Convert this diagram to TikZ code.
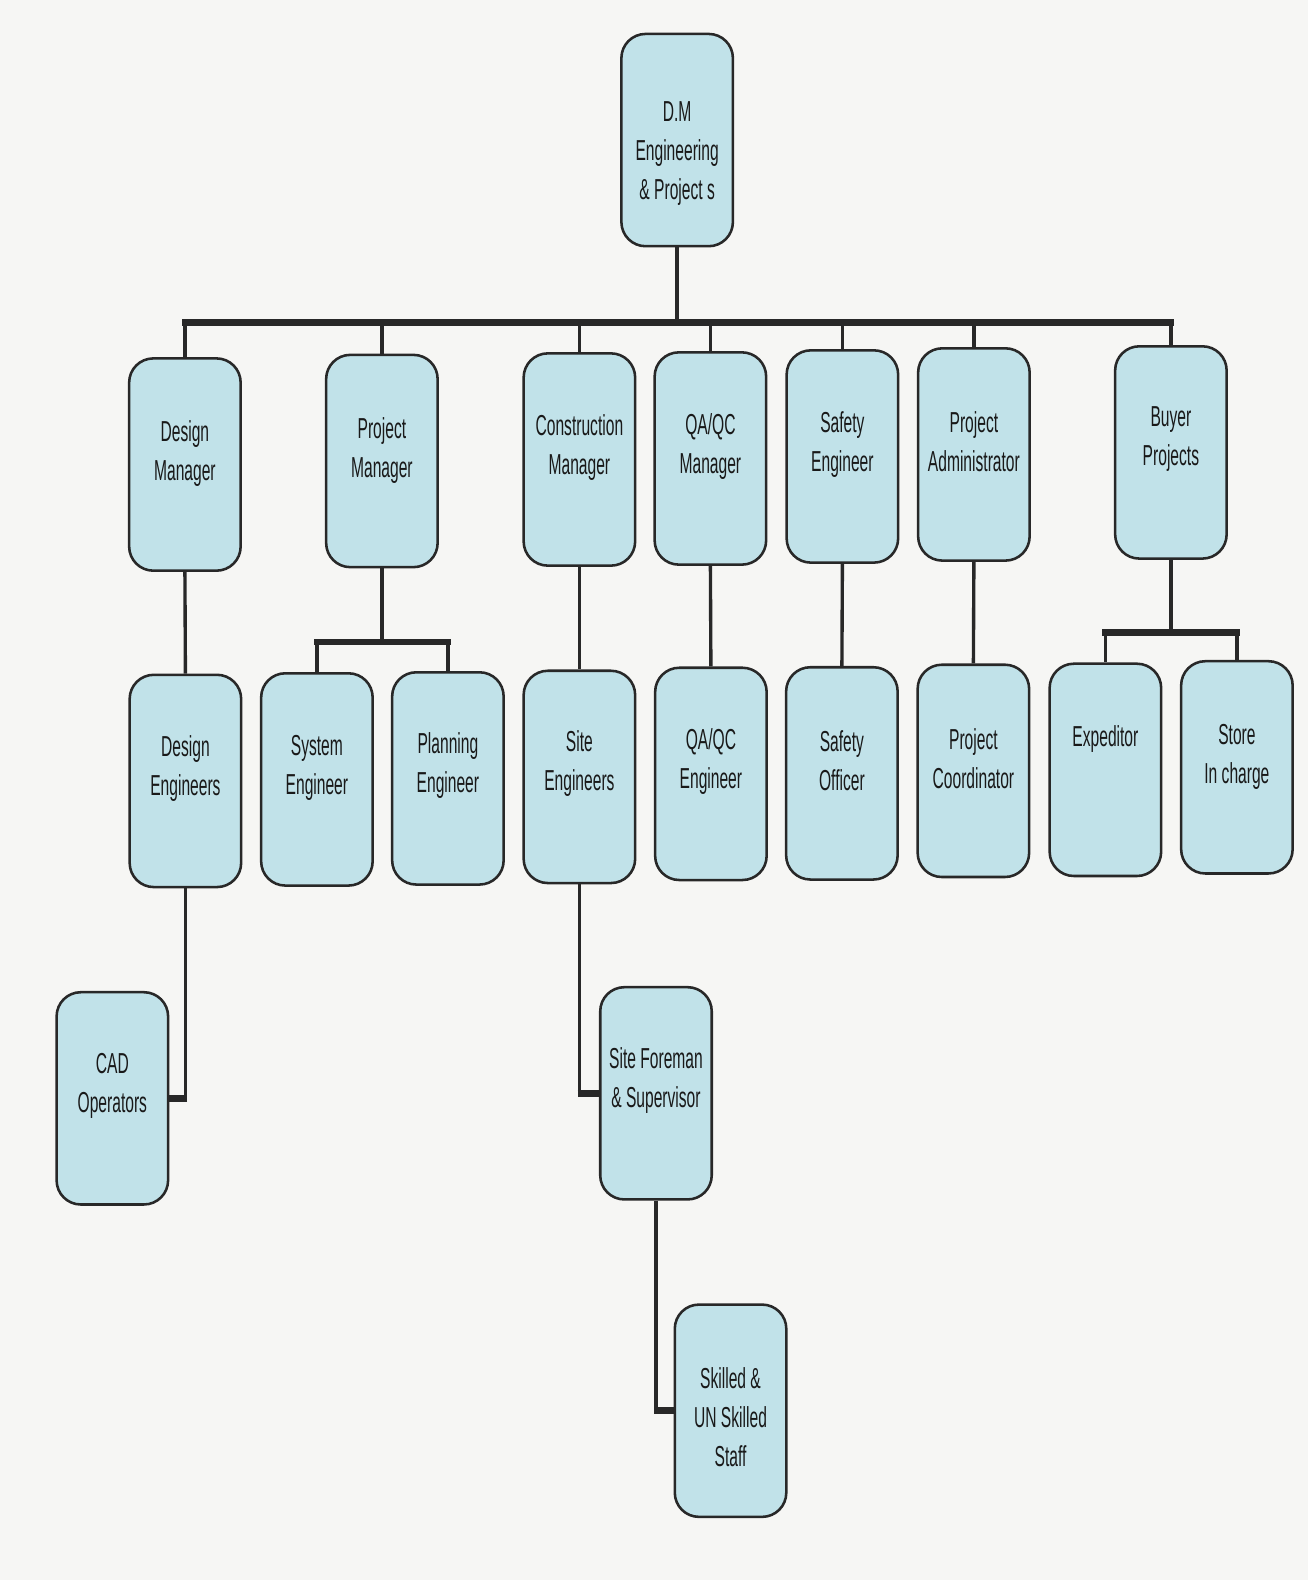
\documentclass[tikz,border=0pt]{standalone}
\usepackage{fontspec}
\setmainfont{Liberation Sans}[FakeStretch=0.54]
\definecolor{boxfill}{RGB}{193,226,233}
\definecolor{boxline}{RGB}{40,40,40}
\definecolor{linecol}{RGB}{40,40,40}
\definecolor{txtcol}{RGB}{25,25,25}
\definecolor{paper}{RGB}{246,246,244}
\begin{document}
\begin{tikzpicture}[x=0.75pt,y=-0.75pt,
  box/.style={draw=boxline, line width=1.9pt, fill=boxfill, rounded corners=18pt,
    minimum width=83pt, minimum height=158pt, inner sep=0pt},
  txt/.style={align=center, font=\fontsize{21.5}{29}\selectfont, text=txtcol, inner sep=0pt},
  link/.style={draw=linecol, line width=2.5pt},
  bus/.style={draw=linecol, line width=5pt, line cap=rect}]
\fill[paper] (0,0) rectangle (1298,1568);
\useasboundingbox (0,0) rectangle (1298,1568);
% boxes
\node[box] (dm) at (672,139) {};
\node[box] (dmg) at (183.5,461) {};
\node[box] (pmg) at (379,457.5) {};
\node[box] (cmg) at (575,456) {};
\node[box] (qam) at (705,455) {};
\node[box] (seng) at (836,453) {};
\node[box] (padm) at (966.5,451) {};
\node[box] (buy) at (1162,449) {};
\node[box] (deng) at (184,775) {};
\node[box] (syse) at (314.5,773.5) {};
\node[box] (plan) at (444.5,772.5) {};
\node[box] (site) at (575,771) {};
\node[box] (qae) at (705.5,768) {};
\node[box] (safo) at (835.5,767.5) {};
\node[box] (pco) at (966,765) {};
\node[box] (exp) at (1097,764) {};
\node[box] (store) at (1227.5,761.5) {};
\node[box] (cad) at (111.5,1090) {};
\node[box] (fore) at (651,1085) {};
\node[box] (skill) at (725,1400) {};
% texts
\node[txt] (tdm) at (672,152) {D.M\\Engineering\\\& Project s};
\node[txt] (tdmg) at (183.5,450) {Design\\Manager};
\node[txt] (tpmg) at (379,447) {Project\\Manager};
\node[txt] (tcmg) at (575,444) {Construction\\Manager};
\node[txt] (tqam) at (705,443) {QA/QC\\Manager};
\node[txt] (tseng) at (836,441) {Safety\\Engineer};
\node[txt] (tpadm) at (966.5,438) {Project\\Administrator};
\node[txt] (tbuy) at (1162,436) {Buyer\\Projects};
\node[txt] (tdeng) at (184,763) {Design\\Engineers};
\node[txt] (tsyse) at (314.5,762) {System\\Engineer};
\node[txt] (tplan) at (444.5,760) {Planning\\Engineer};
\node[txt] (tsite) at (575,758) {Site\\Engineers};
\node[txt] (tqae) at (705.5,756) {QA/QC\\Engineer};
\node[txt] (tsafo) at (835.5,755) {Safety\\Officer};
\node[txt] (tpco) at (966,753) {Project\\Coordinator};
\node[txt] (texp) at (1097,733) {Expeditor};
\node[txt] (tstore) at (1227.5,751) {Store\\In charge};
\node[txt] (tcad) at (111.5,1078) {CAD\\Operators};
\node[txt] (tfore) at (651,1072) {Site Foreman\\\& Supervisor};
\node[txt] (tskill) at (725,1406) {Skilled \&\\UN Skilled\\Staff};
% bus coordinates
\coordinate (busL) at (dmg.north |- 0,320);
\coordinate (busR) at (buy.north |- 0,320);
\coordinate (pmbusL) at (syse.north |- 0,637);
\coordinate (pmbusR) at (plan.north |- 0,637);
\coordinate (bybusL) at (exp.north |- 0,628);
\coordinate (bybusR) at (store.north |- 0,628);
% main bus
\draw[link] (dm.south) -- (dm.south |- busL);
\draw[bus] (busL) -- (busR);
\foreach \n in {dmg,pmg,cmg,qam,seng,padm,buy}
  \draw[link] (\n.north |- busL) -- (\n.north);
% project manager sub-bus
\draw[link] (pmg.south) -- (pmg.south |- pmbusL);
\draw[bus] (pmbusL) -- (pmbusR);
\draw[link] (pmbusL) -- (syse.north);
\draw[link] (pmbusR) -- (plan.north);
% buyer sub-bus
\draw[link] (buy.south) -- (buy.south |- bybusL);
\draw[bus] (bybusL) -- (bybusR);
\draw[link] (bybusL) -- (exp.north);
\draw[link] (bybusR) -- (store.north);
% straight links
\draw[link] (dmg.south) -- (deng.north);
\draw[link] (cmg.south) -- (site.north);
\draw[link] (qam.south) -- (qae.north);
\draw[link] (seng.south) -- (safo.north);
\draw[link] (padm.south) -- (pco.north);
% elbow links
\draw[link] (deng.south) -- (deng.south |- cad.east);
\draw[bus, line cap=butt] ([xshift=1.25pt]deng.south |- cad.east) -- (cad.east);
\draw[link] (site.south) -- (site.south |- fore.west);
\draw[bus, line cap=butt] ([xshift=-1.25pt]site.south |- fore.west) -- (fore.west);
\draw[link] (fore.south) -- (fore.south |- skill.west);
\draw[bus, line cap=butt] ([xshift=-1.25pt]fore.south |- skill.west) -- (skill.west);
\end{tikzpicture}
\end{document}
